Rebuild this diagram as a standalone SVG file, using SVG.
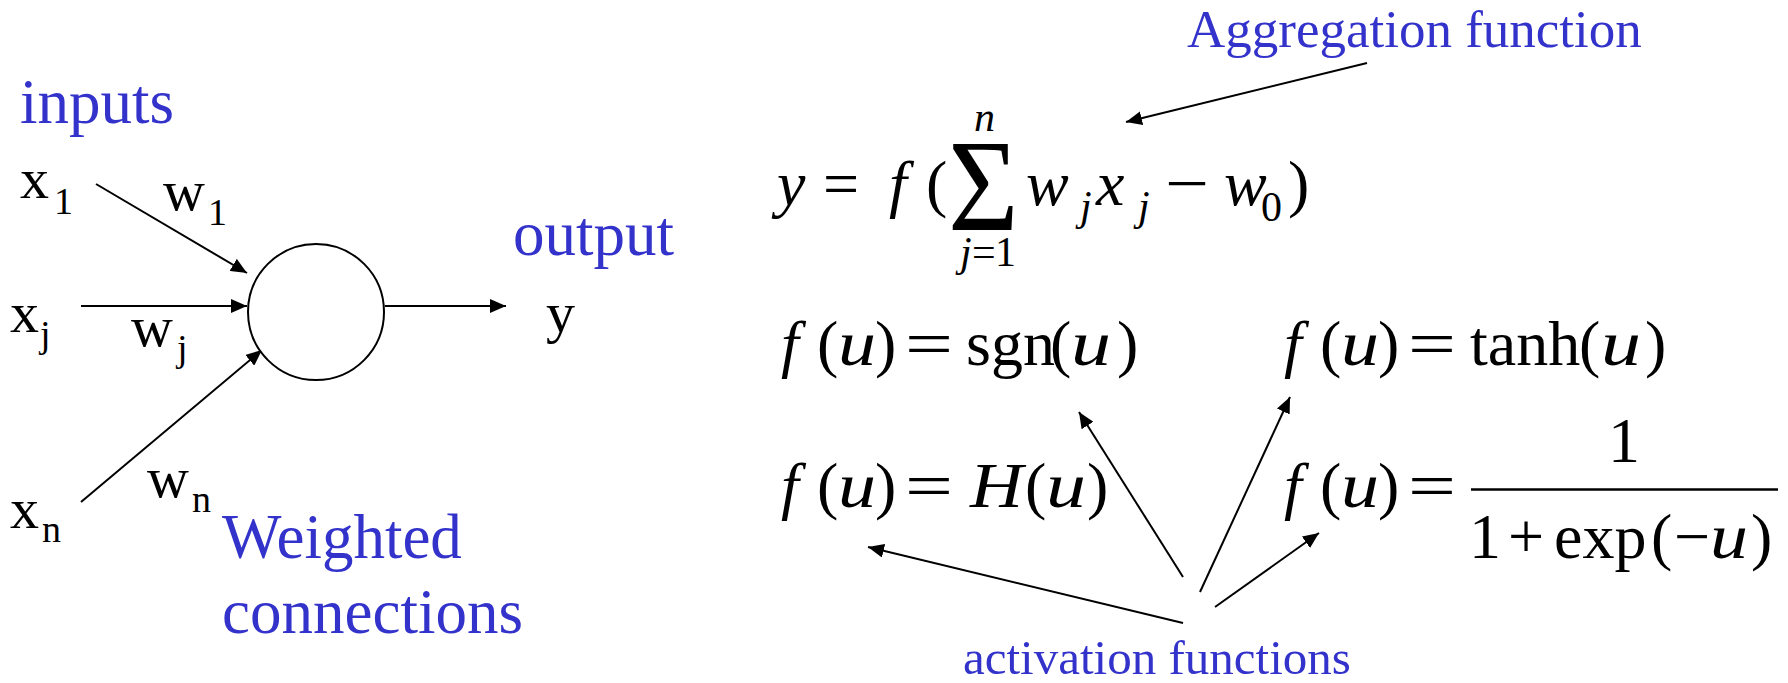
<svg xmlns="http://www.w3.org/2000/svg" width="1788" height="683" viewBox="0 0 1788 683" font-family="Liberation Serif, Times New Roman, serif">
<defs>
<style>
.t{font-family:'Liberation Serif','Times New Roman',serif;fill:#000}
.blue{fill:#3333CC;font-size:63px}
.blue2{fill:#3333CC;font-size:53px}
.lbl{font-size:58px}
.sub{font-size:38px}
.m{font-size:64px}
.mi{font-size:64px;font-style:italic}
.ms{font-size:42px}
.msi{font-size:42px;font-style:italic}
.it{font-style:italic}
.up{font-style:normal}
.ln{stroke:#000;stroke-width:2;fill:none}
</style>
<marker id="ah" markerUnits="userSpaceOnUse" markerWidth="18" markerHeight="14" refX="16" refY="7" orient="auto">
<path d="M0,0 L16,7 L0,14 z" fill="#000"/>
</marker>
</defs>
<rect width="1788" height="683" fill="#fff"/>

<g id="connectors">
<line class="ln" x1="96" y1="184" x2="247" y2="273" marker-end="url(#ah)"/>
<line class="ln" x1="81" y1="306" x2="247" y2="306" marker-end="url(#ah)"/>
<line class="ln" x1="81" y1="502" x2="262" y2="350" marker-end="url(#ah)"/>
<line class="ln" x1="385" y1="306" x2="506" y2="306" marker-end="url(#ah)"/>
<line class="ln" x1="1367" y1="63" x2="1126" y2="122" marker-end="url(#ah)"/>
<line class="ln" x1="1183" y1="623" x2="868" y2="547" marker-end="url(#ah)"/>
<line class="ln" x1="1183" y1="577" x2="1079" y2="412" marker-end="url(#ah)"/>
<line class="ln" x1="1200" y1="592" x2="1290" y2="397" marker-end="url(#ah)"/>
<line class="ln" x1="1215" y1="607" x2="1319" y2="533" marker-end="url(#ah)"/>
</g>

<g id="neuron">
<circle cx="316" cy="312" r="68" fill="#fff" stroke="#000" stroke-width="2"/>
</g>

<g class="t">
<g id="label-inputs"><text class="blue" x="20" y="123">inputs</text></g>
<g id="label-output"><text class="blue" x="513" y="255">output</text></g>
<g id="label-weighted"><text class="blue" x="222" y="558">Weighted</text><text class="blue" x="222" y="633">connections</text></g>

<g id="input-x1"><text class="lbl" x="20" y="198">x</text><text class="sub" x="54" y="214">1</text></g>
<g id="input-xj"><text class="lbl" x="10" y="332">x</text><text class="sub" x="40" y="347">j</text></g>
<g id="input-xn"><text class="lbl" x="10" y="528">x</text><text class="sub" x="42" y="542">n</text></g>
<g id="weight-w1"><text class="lbl" x="163" y="210">w</text><text class="sub" x="208" y="225">1</text></g>
<g id="weight-wj"><text class="lbl" x="131" y="346">w</text><text class="sub" x="177" y="361">j</text></g>
<g id="weight-wn"><text class="lbl" x="147" y="497">w</text><text class="sub" x="192" y="512">n</text></g>
<g id="output-y"><text class="lbl" x="546" y="332">y</text></g>

<g id="label-aggregation"><text class="blue2" x="1187" y="47">Aggregation function</text></g>

<g id="eq-aggregation">
<text class="mi" x="777" y="205">y</text>
<text class="m" x="823" y="205">=</text>
<text class="mi" x="889" y="205">f</text>
<text class="m" x="926" y="205">(</text>
<text x="0" y="0" font-size="132" transform="translate(948,230) scale(0.92,1)">Σ</text>
<text class="msi" x="974" y="131">n</text>
<text class="ms" x="960" y="266"><tspan class="it">j</tspan><tspan x="972">=</tspan><tspan x="995">1</tspan></text>
<text class="mi" x="1026" y="205">w</text>
<text class="msi" x="1080" y="220">j</text>
<text class="mi" x="1096" y="205">x</text>
<text class="msi" x="1138" y="220">j</text>
<text class="m" x="1165" y="205" textLength="44" lengthAdjust="spacingAndGlyphs">−</text>
<text class="mi" x="1224" y="205">w</text>
<text class="ms" x="1261" y="221">0</text>
<text class="m" x="1288" y="205">)</text>
</g>

<g id="eq-sgn">
<text class="mi" x="781" y="365">f</text>
<text class="m" x="817" y="365">(</text>
<text class="mi" x="838" y="365" textLength="38" lengthAdjust="spacingAndGlyphs">u</text>
<text class="m" x="875" y="365">)</text>
<text class="m" x="905" y="365" textLength="48" lengthAdjust="spacingAndGlyphs">=</text>
<text class="m" x="966" y="365">sgn</text>
<text class="m" x="1050" y="365">(</text>
<text class="mi" x="1071" y="365" textLength="40" lengthAdjust="spacingAndGlyphs">u</text>
<text class="m" x="1117" y="365">)</text>
</g>

<g id="eq-heaviside">
<text class="mi" x="781" y="507">f</text>
<text class="m" x="817" y="507">(</text>
<text class="mi" x="838" y="507" textLength="38" lengthAdjust="spacingAndGlyphs">u</text>
<text class="m" x="875" y="507">)</text>
<text class="m" x="905" y="507" textLength="48" lengthAdjust="spacingAndGlyphs">=</text>
<text class="mi" x="970" y="507" textLength="53" lengthAdjust="spacingAndGlyphs">H</text>
<text class="m" x="1025" y="507">(</text>
<text class="mi" x="1046" y="507" textLength="40" lengthAdjust="spacingAndGlyphs">u</text>
<text class="m" x="1087" y="507">)</text>
</g>

<g id="eq-tanh">
<text class="mi" x="1284" y="365">f</text>
<text class="m" x="1320" y="365">(</text>
<text class="mi" x="1341" y="365" textLength="38" lengthAdjust="spacingAndGlyphs">u</text>
<text class="m" x="1378" y="365">)</text>
<text class="m" x="1408" y="365" textLength="48" lengthAdjust="spacingAndGlyphs">=</text>
<text class="m" x="1470" y="365">tanh</text>
<text class="m" x="1579" y="365">(</text>
<text class="mi" x="1601" y="365" textLength="40" lengthAdjust="spacingAndGlyphs">u</text>
<text class="m" x="1645" y="365">)</text>
</g>

<g id="eq-sigmoid">
<text class="mi" x="1284" y="507">f</text>
<text class="m" x="1320" y="507">(</text>
<text class="mi" x="1341" y="507" textLength="38" lengthAdjust="spacingAndGlyphs">u</text>
<text class="m" x="1378" y="507">)</text>
<text class="m" x="1408" y="507" textLength="48" lengthAdjust="spacingAndGlyphs">=</text>
<text class="m" x="1608" y="462">1</text>
<text class="m" x="1469" y="558">1</text>
<text class="m" x="1508" y="558">+</text>
<text class="m" x="1554" y="558">exp</text>
<text class="m" x="1651" y="558">(</text>
<text class="m" x="1674" y="558">−</text>
<text class="mi" x="1710" y="558" textLength="38" lengthAdjust="spacingAndGlyphs">u</text>
<text class="m" x="1751" y="558">)</text>
<line x1="1471" y1="489.5" x2="1778" y2="489.5" stroke="#000" stroke-width="2.5"/>
</g>

<g id="label-activation"><text class="blue2" x="963" y="674" style="font-size:49px">activation functions</text></g>
</g>
</svg>
